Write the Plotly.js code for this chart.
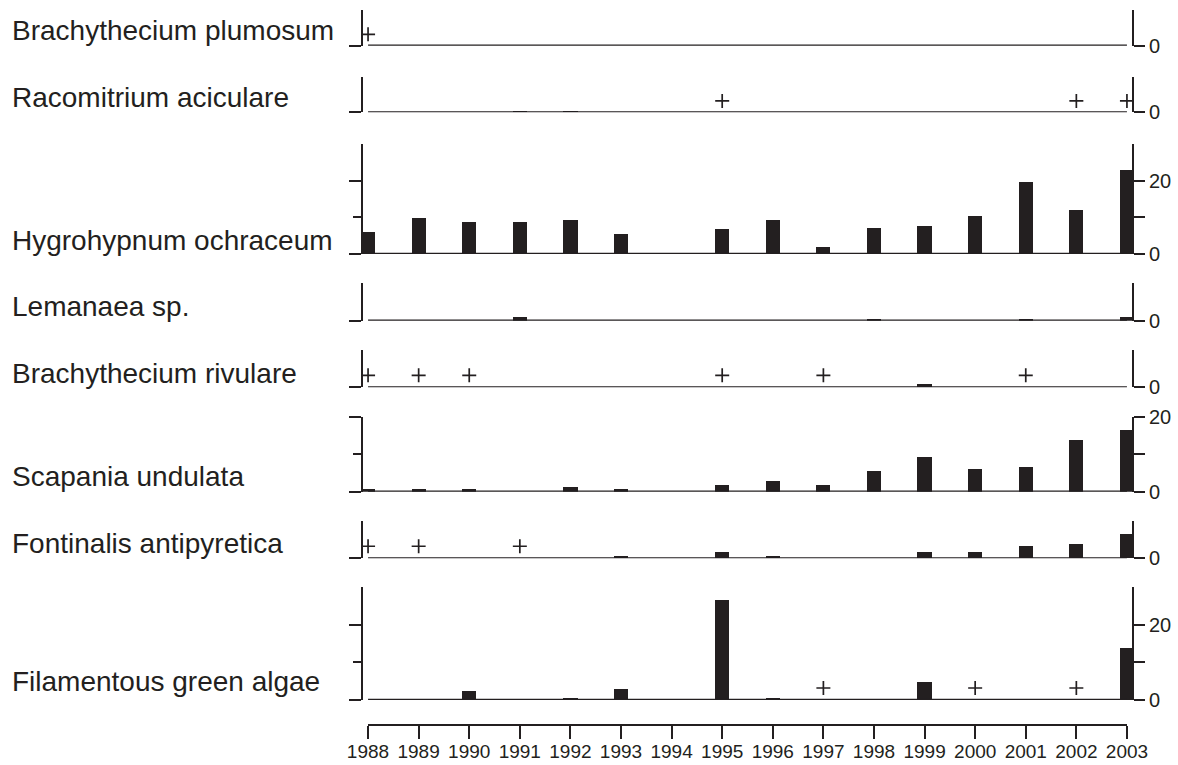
<!DOCTYPE html>
<html>
<head>
<meta charset="utf-8">
<script src="https://cdn.plot.ly/plotly-3.0.1.min.js"></script>
<style>html,body{margin:0;padding:0;background:#fff;}#chart{width:1178px;height:765px;}</style>
</head>
<body>
<div id="chart"></div>
<script>
// ---- data ----
const years = [1988,1989,1990,1991,1992,1993,1994,1995,1996,1997,1998,1999,2000,2001,2002,2003];
const yearLabels = ['1988','1989','1990','1991','1992','1993','1994','1995','1996','1997','1998','1999','2000','2001','2002','2003'];
const species = ['Brachythecium plumosum','Racomitrium aciculare','Hygrohypnum ochraceum','Lemanaea sp.','Brachythecium rivulare','Scapania undulata','Fontinalis antipyretica','Filamentous green algae'];

const plumosum    = [0,0,0,0,0,0,0,0,0,0,0,0,0,0,0,0];
const racomitrium = [0.1,0.1,0,0.4,0.4,0,0,0,0.1,0.1,0,0.1,0.1,0.1,0,0];
const hygrohypnum = [6.1,9.8,8.8,8.8,9.3,5.5,0,6.7,9.3,1.8,7.2,7.7,10.4,19.6,12.1,22.8];
const lemanaea    = [0,0,0,1.1,0,0,0,0,0,0,0.4,0,0,0.4,0,0.9];
const rivulare    = [0,0,0,0,0,0,0,0,0,0,0,1.0,0,0,0,0];
const scapania    = [0.6,0.6,0.6,0,1.2,0.6,0,1.7,2.8,1.7,5.5,9.2,6.0,6.5,13.8,16.5];
const fontinalis  = [0,0,0,0,0.1,0.7,0,1.8,0.7,0,0.1,1.8,1.8,3.4,3.8,6.4];
const algae       = [0,0,2.4,0,0.6,2.9,0,26.5,0.6,0,0,4.9,0,0.1,0,13.9];

// years marked with "+" (present, not quantified)
const plumosumPlus    = [1988];
const racomitriumPlus = [1995,2002,2003];
const hygrohypnumPlus = [];
const lemanaeaPlus    = [];
const rivularePlus    = [1988,1989,1990,1995,1997,2001];
const scapaniaPlus    = [];
const fontinalisPlus  = [1988,1989,1991];
const algaePlus       = [1997,2000,2002];
const plusLevel = 3.2;

const yMax = [10,10,30,10,10,20,10,30];

// ---- layout geometry (pixels) ----
const W = 1178, H = 765;
const ink = '#231f20';
const panelTop  = [10, 76.7, 144, 283.3, 350, 416.7, 520.7, 587.3];
const panelBase = [45.7, 112.3, 254, 320.7, 387.3, 491.7, 558.3, 700];
const labelY    = [31, 97.5, 240, 306, 373, 476, 543, 681];
const xLeft = 363, xRight = 1132;
const fontFam = 'Liberation Sans, Arial, sans-serif';

const values = [plumosum, racomitrium, hygrohypnum, lemanaea, rivulare, scapania, fontinalis, algae];
const pluses = [plumosumPlus, racomitriumPlus, hygrohypnumPlus, lemanaeaPlus, rivularePlus, scapaniaPlus, fontinalisPlus, algaePlus];

const traces = [];
const layout = {
  width: W, height: H,
  margin: {l:0, r:0, t:0, b:0},
  paper_bgcolor: '#fff', plot_bgcolor: 'rgba(0,0,0,0)',
  showlegend: false,
  bargap: 0,
  font: {family: fontFam, color: ink},
  annotations: []
};

for (let i = 0; i < 8; i++) {
  const n = i + 1;
  const xa = 'x' + n, ya = 'y' + n, yr = 'y' + (8 + n);
  traces.push({type:'bar', x: years, y: values[i], xaxis: xa, yaxis: ya, width: 0.28,
    marker: {color: ink, line: {width: 0}}, hoverinfo: 'skip'});
  traces.push({type:'scatter', mode:'lines', x: [years[0], years[years.length-1]], y: [0, 0],
    xaxis: xa, yaxis: ya, line: {color: ink, width: 2.3}, cliponaxis: false, hoverinfo: 'skip'});
  if (pluses[i].length) {
    traces.push({type:'scatter', mode:'markers', x: pluses[i], y: pluses[i].map(() => plusLevel),
      xaxis: xa, yaxis: ya, cliponaxis: false, hoverinfo: 'skip',
      marker: {symbol: 'cross-thin', size: 10, line: {color: ink, width: 1.7}, color: ink}});
  }
  traces.push({type:'scatter', mode:'markers', x: [years[0]], y: [0], xaxis: xa, yaxis: yr,
    marker: {opacity: 0}, hoverinfo: 'skip'});

  const dom = [1 - panelBase[i] / H, 1 - panelTop[i] / H];
  const big = yMax[i] >= 20;
  layout['xaxis' + n] = {domain: [xLeft / W, xRight / W], range: [1987.9, 2003.1], anchor: ya,
    visible: false, fixedrange: true};
  const leftAxis = {domain: dom, range: [0, yMax[i]], anchor: xa, side: 'left',
    showline: true, linecolor: ink, linewidth: 2, showgrid: false, zeroline: false,
    ticks: 'outside', ticklen: 12, tickwidth: 2, tickcolor: ink, showticklabels: false,
    tickmode: 'array', tickvals: big ? [0, 20] : [0], fixedrange: true};
  if (big) {
    leftAxis.minor = {tickmode: 'array', tickvals: [10], ticks: 'outside', ticklen: 8,
      tickwidth: 2, tickcolor: ink, showgrid: false};
  }
  layout['yaxis' + n] = leftAxis;
  layout['yaxis' + (8 + n)] = {overlaying: ya, side: 'right', anchor: xa, range: [0, yMax[i]],
    showline: true, linecolor: ink, linewidth: 2, showgrid: false, zeroline: false,
    ticks: 'outside', ticklen: 11, tickwidth: 2, tickcolor: ink,
    tickmode: 'array', tickvals: big ? [0, 10, 20] : [0], ticktext: big ? ['0', '', '20'] : ['0'],
    tickfont: {size: 20, color: ink, family: fontFam}, fixedrange: true};

  layout.annotations.push({text: species[i], xref: 'paper', yref: 'paper',
    x: 10 / W, y: 1 - labelY[i] / H, xanchor: 'left', yanchor: 'middle', showarrow: false,
    font: {size: 28, color: ink, family: fontFam}});
}

// bottom year axis
traces.push({type:'scatter', mode:'markers', x: [years[0]], y: [0], xaxis: 'x9', yaxis: 'y17',
  marker: {opacity: 0}, hoverinfo: 'skip'});
layout.xaxis9 = {domain: [368 / W, 1127 / W], range: [years[0], years[years.length-1]], anchor: 'y17',
  showline: true, linecolor: ink, linewidth: 2, showgrid: false, zeroline: false,
  ticks: 'outside', ticklen: 13, tickwidth: 2, tickcolor: ink, ticklabelstandoff: -4,
  tickmode: 'array', tickvals: years, ticktext: yearLabels,
  tickfont: {size: 19, color: ink, family: fontFam}, fixedrange: true};
layout.yaxis17 = {domain: [1 - 724 / H, 1 - 710 / H], anchor: 'x9', visible: false, range: [0, 1], fixedrange: true};

Plotly.newPlot('chart', traces, layout, {displayModeBar: false, staticPlot: true});
</script>
</body>
</html>
